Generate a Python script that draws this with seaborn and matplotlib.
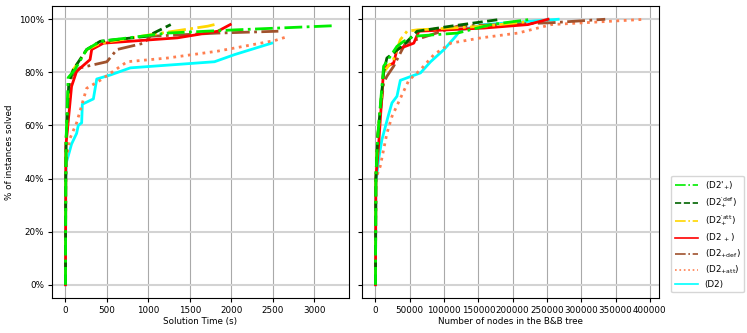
import seaborn as sb
import matplotlib.pyplot as plt
from matplotlib.ticker import PercentFormatter

# solution time (s) vs % solved
time_d2p = [0, 3, 8, 32, 113, 255, 418, 1228, 2039, 3255]
pct_d2p_t = [0, 40, 55, 78, 81, 88.6, 91.7, 94.8, 96, 97.6]
time_d2def = [0, 3, 8, 40, 93, 255, 418, 985, 1269]
pct_d2def_t = [0, 40, 55, 76, 81, 88.6, 91.7, 93.6, 98]
time_d2att = [0, 3, 8, 40, 93, 260, 418, 1026, 1715, 1796]
pct_d2att_t = [0, 40, 55, 76, 81, 88.6, 91, 94.2, 97.4, 98]
time_d2plus = [0, 3, 4, 73, 134, 296, 316, 458, 1350, 1836, 1986]
pct_d2plus_t = [0, 40, 52, 74.7, 80.4, 84.8, 88.6, 91, 93, 95.5, 98]
time_d2pdef = [0, 3, 8, 73, 174, 499, 620, 944, 1026, 1836, 2566]
pct_d2pdef_t = [0, 40, 55, 78.5, 81.7, 84, 88.6, 91, 93.6, 94.8, 95.5]
time_d2patt = [0, 3, 10, 53, 134, 255, 418, 742, 1228, 1836, 2525, 2688]
pct_d2patt_t = [0, 40, 47, 55, 61, 74, 77, 84, 85.4, 88, 92, 93.6]
time_d2 = [0, 3, 10, 32, 73, 134, 154, 195, 203, 336, 377, 539, 782, 1796, 2039, 2485]
pct_d2_t = [0, 40, 46, 48.4, 53, 57, 60, 61, 68, 70, 77.5, 79, 81.7, 84, 86.7, 91]

# nodes in B&B tree vs % solved
nodes_d2p = [0, 500, 3000, 11800, 31300, 41100, 55800, 119500, 168400, 227200]
pct_d2p_n = [0, 40, 55, 82.3, 89.8, 91.7, 93.6, 94.8, 98, 100]
nodes_d2def = [0, 500, 3000, 11800, 16600, 26400, 43600, 60700, 109700, 183100]
pct_d2def_n = [0, 40, 55, 80, 85.4, 87.3, 91, 95.5, 97.4, 100]
nodes_d2att = [0, 500, 3000, 11800, 26400, 36200, 46000, 60700, 158600, 217400]
pct_d2att_n = [0, 40, 55, 80, 85, 92.3, 95.5, 96, 97.4, 99]
nodes_d2plus = [0, 500, 4400, 11800, 16600, 26400, 31300, 55800, 63200, 158600, 222300, 251600]
pct_d2plus_n = [0, 40, 52, 81, 82.3, 83.5, 88.6, 91, 95.5, 96.7, 98, 100]
nodes_d2pdef = [0, 500, 3000, 11800, 16600, 26400, 43600, 119500, 256500, 334900]
pct_d2pdef_n = [0, 40, 55, 76, 78.5, 82.3, 91, 97.4, 98.7, 100]
nodes_d2patt = [0, 500, 6900, 16600, 24000, 48500, 65600, 85200, 109700, 153700, 207600, 256500, 393600]
pct_d2patt_n = [0, 40, 44.6, 57, 63.4, 77, 81, 86.7, 91, 93, 94.8, 98, 100]
nodes_d2 = [0, 500, 4400, 9300, 19000, 24000, 31300, 36200, 65600, 80300, 99900, 117000, 124000, 158600, 266300]
pct_d2_n = [0, 38, 47, 54.6, 64, 68.5, 71, 77, 79.8, 84, 88.6, 93.6, 96, 98, 100]

labels = ["(D2$'_{+}$)", "(D2$^{\\prime def}_{+}$)", "(D2$^{\\prime att}_{+}$)",
          "(D2$_{\\ +}$)", "(D2$_{+def}$)", "(D2$_{+att}$)", "(D2)"]
colors = ["#00ee00", "darkgreen", "gold", "red", "sienna", "coral", "cyan"]
styles = ["-.", "--", "-.", "-", "-.", ":", "-"]

time_series = [(time_d2p, pct_d2p_t), (time_d2def, pct_d2def_t), (time_d2att, pct_d2att_t),
               (time_d2plus, pct_d2plus_t), (time_d2pdef, pct_d2pdef_t),
               (time_d2patt, pct_d2patt_t), (time_d2, pct_d2_t)]
node_series = [(nodes_d2p, pct_d2p_n), (nodes_d2def, pct_d2def_n), (nodes_d2att, pct_d2att_n),
               (nodes_d2plus, pct_d2plus_n), (nodes_d2pdef, pct_d2pdef_n),
               (nodes_d2patt, pct_d2patt_n), (nodes_d2, pct_d2_n)]

plt.rcParams['font.size'] = 6.3
plt.rcParams['mathtext.default'] = 'regular'

fig = plt.figure(figsize=(7.47, 3.33), dpi=100)
ax1 = fig.add_axes([0.0696, 0.105, 0.3976, 0.877])
ax2 = fig.add_axes([0.4846, 0.105, 0.3976, 0.877], sharey=ax1)

# draw in reverse so lime is on top
for i in reversed(range(7)):
    sb.lineplot(x=time_series[i][0], y=time_series[i][1], ax=ax1, color=colors[i],
                linestyle=styles[i], linewidth=2, label=labels[i], sort=False, estimator=None)
    sb.lineplot(x=node_series[i][0], y=node_series[i][1], ax=ax2, color=colors[i],
                linestyle=styles[i], linewidth=2, sort=False, estimator=None)

for ax in (ax1, ax2):
    ax.grid(axis='y', color='lightgray', linewidth=1.5)
    ax.grid(axis='x', color='darkgray', linewidth=0.8)
    ax.set_axisbelow(True)
    ax.set_yticks([0, 20, 40, 60, 80, 100])
    ax.yaxis.set_major_formatter(PercentFormatter(xmax=100, decimals=0))
    ax.tick_params(length=3, pad=2.5)

ax1.set_xticks([0, 500, 1000, 1500, 2000, 2500, 3000])
ax2.set_xticks(range(0, 400001, 50000))
ax2.ticklabel_format(axis='x', style='plain')
ax2.tick_params(labelleft=False)
ax1.set_xlabel("Solution Time (s)", labelpad=2)
ax2.set_xlabel("Number of nodes in the B&B tree", labelpad=2)
ax1.set_ylabel("% of instances solved")
ax2.set_ylabel("")

handles, labs = ax1.get_legend_handles_labels()
ax1.get_legend().remove()
leg = fig.legend(handles[::-1], labs[::-1], loc='center left', bbox_to_anchor=(0.893, 0.297),
                 fontsize=6.3, handlelength=2.6, labelspacing=0.4)
for h in leg.get_lines():
    h.set_linewidth(1.2)

fig.savefig("out.png", dpi=100)
